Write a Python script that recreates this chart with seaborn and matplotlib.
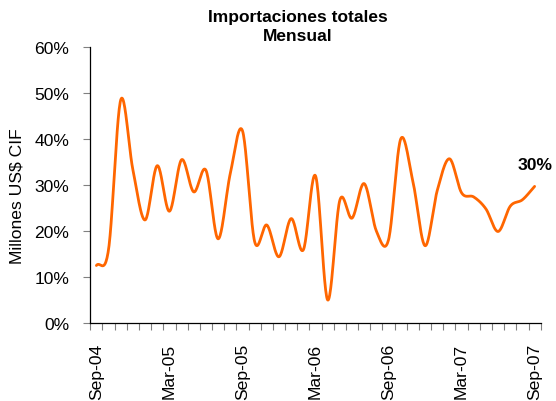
import matplotlib
matplotlib.use('Agg')
import matplotlib.pyplot as plt
from matplotlib.ticker import PercentFormatter
import numpy as np
import pandas as pd
import seaborn as sns

# Monthly categories, Sep-04 .. Sep-07
months = list(pd.date_range('2004-09-01', '2007-09-01', freq='MS').strftime('%b-%y'))

# Monthly growth of total imports (%)
growth = [12.5, 16.0, 48.5, 33.3, 22.4, 34.2, 24.3, 35.5, 28.5, 33.2,
          18.3, 32.5, 41.8, 17.7, 21.3, 14.4, 22.7, 15.9, 32.0, 5.0,
          26.7, 22.8, 30.3, 20.0, 18.1, 40.0, 30.8, 16.8, 28.8, 35.7,
          28.3, 27.4, 24.8, 19.9, 25.4, 26.8, 29.7]

label_months = ['Sep-04', 'Mar-05', 'Sep-05', 'Mar-06', 'Sep-06', 'Mar-07', 'Sep-07']


def smooth(y, n=24):
    # Catmull-Rom curve through the points, like Excel's "smoothed line"
    y = np.asarray(y, dtype=float)
    pts = np.r_[2 * y[0] - y[1], y, 2 * y[-1] - y[-2]]
    xs, ys = [], []
    t = np.linspace(0, 1, n, endpoint=False)
    for i in range(len(y) - 1):
        p0, p1, p2, p3 = pts[i:i + 4]
        ys.append(0.5 * (2 * p1 + (p2 - p0) * t
                         + (2 * p0 - 5 * p1 + 4 * p2 - p3) * t ** 2
                         + (-p0 + 3 * p1 - 3 * p2 + p3) * t ** 3))
        xs.append(i + t)
    xs.append([len(y) - 1])
    ys.append([y[-1]])
    return np.concatenate(xs), np.concatenate(ys)


sns.set_style('white')
plt.rcParams['font.family'] = ['Liberation Sans', 'DejaVu Sans']
plt.rcParams['text.color'] = 'black'
plt.rcParams['axes.labelcolor'] = 'black'

fig, ax = plt.subplots(figsize=(5.56, 4.02), dpi=100)
fig.subplots_adjust(left=0.1624, right=0.9725, bottom=0.194, top=0.8806)

sx, sy = smooth(growth)
df = pd.DataFrame({'x': sx, 'y': sy})
sns.lineplot(data=df, x='x', y='y', ax=ax, color='#FF6600', linewidth=2.0)

ax.set_xlim(-0.5, len(months) - 0.5)
ax.set_ylim(0, 60)
ax.set_yticks(np.arange(0, 61, 10))
ax.yaxis.set_major_formatter(PercentFormatter(xmax=100, decimals=0))

# category labels every six months, small ticks between categories
ax.set_xticks([months.index(m) for m in label_months])
ax.set_xticklabels(label_months, rotation=90)
ax.set_xticks(np.arange(-0.5, len(months), 1), minor=True)
ax.tick_params(axis='x', which='major', length=0, pad=14, labelsize=12.6, labelcolor='black')
ax.tick_params(axis='x', which='minor', bottom=True, length=5, width=0.8, color='#808080')
ax.tick_params(axis='y', left=True, length=5, width=0.8, color='#808080', pad=10,
               labelsize=12.6, labelcolor='black')

for side in ['top', 'right']:
    ax.spines[side].set_visible(False)
for side in ['left', 'bottom']:
    ax.spines[side].set_color('black')
    ax.spines[side].set_linewidth(0.9)

ax.set_xlabel('')
ax.set_ylabel('Millones US$ CIF', fontsize=12.6)
ax.yaxis.set_label_coords(-0.145, 0.4645)

fig.suptitle('Importaciones totales\nMensual', x=0.536, y=0.974, fontsize=12.5,
             fontweight='bold', linespacing=1.3)

ax.annotate(f'{growth[-1]:.0f}%', xy=(len(months) - 1, growth[-1]), xytext=(0, 16),
            textcoords='offset points', ha='center', va='center',
            fontsize=12.6, fontweight='bold')

fig.savefig('out.png', dpi=100)
